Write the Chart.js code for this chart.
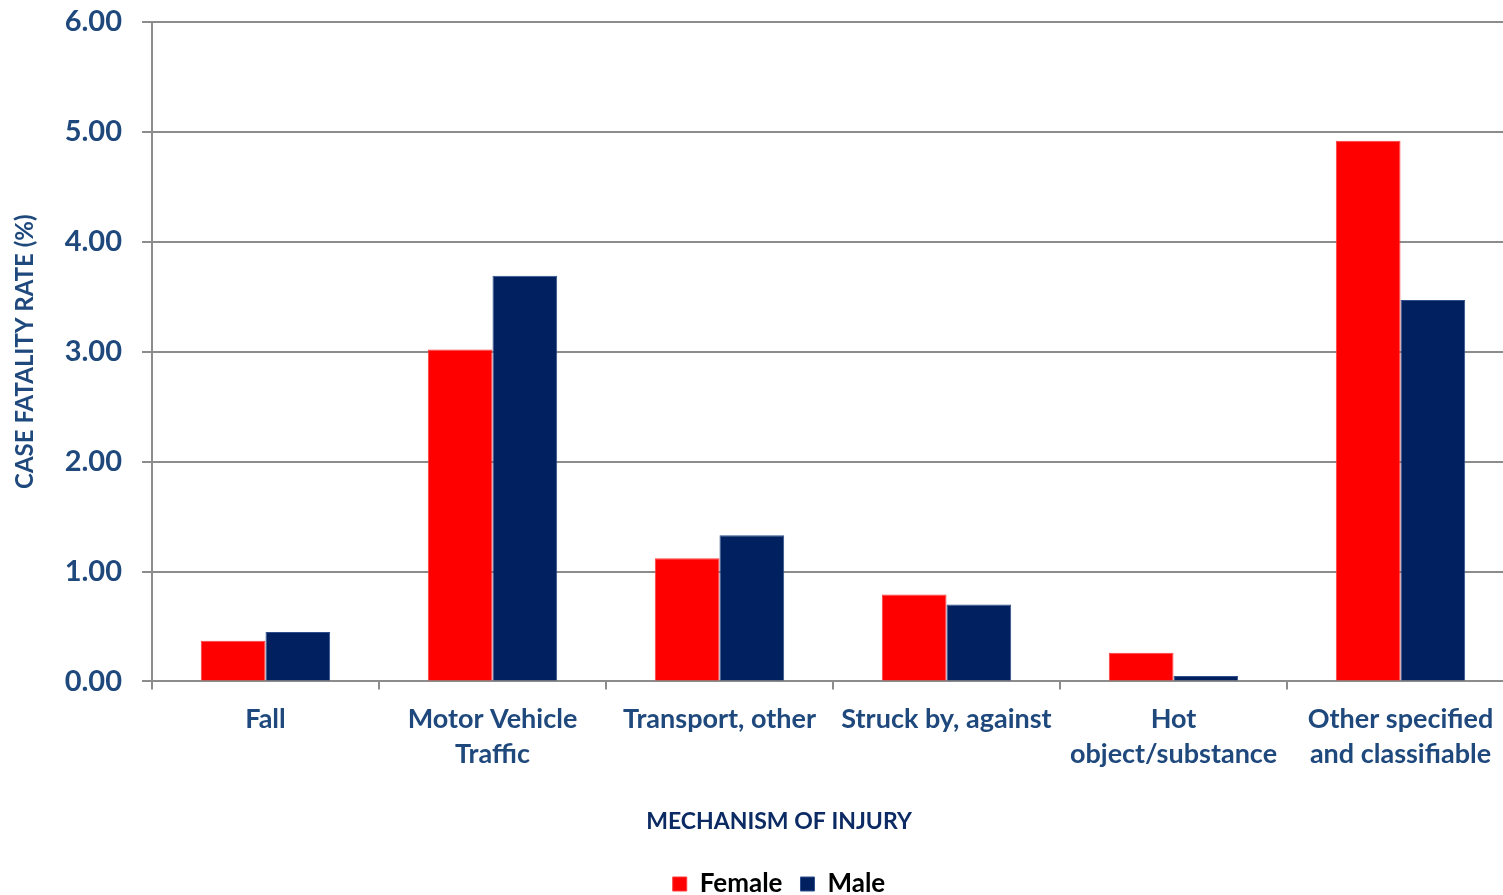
<!DOCTYPE html>
<html lang="en">
<head>
  <meta charset="UTF-8">
  <title>Case Fatality Rate by Mechanism of Injury</title>
  <script src="https://cdn.jsdelivr.net/npm/chart.js"></script>
  <style>
    html, body {
      margin: 0;
      padding: 0;
      background: #ffffff;
      overflow: hidden;
    }
    .chart-box {
      position: relative;
      width: 1514px;
      height: 907px;
    }
  </style>
</head>
<body>
  <div class="chart-box">
    <canvas id="cfrChart"></canvas>
  </div>

  <script>
    // categories (multi-line labels as in the original)
    const categories = [
      "Fall",
      ["Motor Vehicle", "Traffic"],
      "Transport, other",
      "Struck by, against",
      ["Hot", "object/substance"],
      ["Other specified", "and classifiable"]
    ];
    const femaleRate = [0.37, 3.02, 1.12, 0.79, 0.26, 4.92];
    const maleRate = [0.45, 3.69, 1.33, 0.70, 0.05, 3.47];
    const yTicks = [0, 1, 2, 3, 4, 5, 6];

    const textBlue = "#1f497d";
    const titleBlue = "#0c2a63";
    const gridGrey = "#8c8c8c";
    const fontFamily = "Lato, 'Open Sans', sans-serif";

    // the axis title and legend sit a bit left of the plot centre in the original
    const shiftBottomBoxes = {
      id: "shiftBottomBoxes",
      afterLayout(chart) {
        const dx = 22;
        [chart.legend, chart.titleBlock].forEach(box => {
          if (box) {
            box.left += dx;
            box.right += dx;
          }
        });
      }
    };

    const ctx = document.getElementById("cfrChart").getContext("2d");
    const cfrChart = new Chart(ctx, {
      type: "bar",
      data: {
        labels: categories,
        datasets: [
          {
            label: "Female",
            data: femaleRate,
            backgroundColor: "#ff0000",
            borderColor: "#ff3b3b",
            borderWidth: 1,
            categoryPercentage: 0.57,
            barPercentage: 1.0
          },
          {
            label: "Male",
            data: maleRate,
            backgroundColor: "#002060",
            borderColor: "#2e4f8a",
            borderWidth: 1,
            categoryPercentage: 0.57,
            barPercentage: 1.0
          }
        ]
      },
      plugins: [shiftBottomBoxes],
      options: {
        responsive: true,
        maintainAspectRatio: false,
        animation: false,
        layout: {
          padding: { top: 22, left: 0, right: 0, bottom: 0 }
        },
        plugins: {
          title: {
            display: true,
            position: "bottom",
            weight: 500,
            text: "MECHANISM OF INJURY",
            color: titleBlue,
            padding: { top: 26, bottom: 18 },
            font: { family: fontFamily, size: 23, weight: "bold", lineHeight: 1.2 }
          },
          legend: {
            position: "bottom",
            weight: 1000,
            labels: {
              color: "#000000",
              boxWidth: 14,
              boxHeight: 14,
              padding: 18,
              font: { family: fontFamily, size: 26, weight: "bold" }
            }
          },
          tooltip: { enabled: false }
        },
        scales: {
          x: {
            grid: {
              offset: true,
              drawOnChartArea: false,
              drawTicks: true,
              tickLength: 8,
              color: gridGrey,
              lineWidth: 2
            },
            border: { color: gridGrey, width: 2 },
            ticks: {
              color: textBlue,
              padding: 12,
              maxRotation: 0,
              autoSkip: false,
              font: { family: fontFamily, size: 27, weight: "bold", lineHeight: 1.3 }
            },
            afterFit: function(scale) {
              scale.height = 100;
            }
          },
          y: {
            min: 0,
            max: 6,
            afterBuildTicks: function(scale) {
              scale.ticks = yTicks.map(v => ({ value: v }));
            },
            grid: {
              color: gridGrey,
              lineWidth: 2,
              tickLength: 10
            },
            border: { color: gridGrey, width: 2 },
            ticks: {
              color: textBlue,
              padding: 20,
              font: { family: fontFamily, size: 29, weight: "bold" },
              callback: function(value) {
                return Number(value).toFixed(2);
              }
            },
            title: {
              display: true,
              text: "CASE FATALITY RATE (%)",
              color: textBlue,
              padding: { top: 11, bottom: 0 },
              font: { family: fontFamily, size: 24, weight: "bold", lineHeight: 1.2 }
            },
            afterFit: function(scale) {
              scale.width = 152;
              scale.paddingTop = 0;
              scale.paddingBottom = 0;
            }
          }
        }
      }
    });
  </script>
</body>
</html>
